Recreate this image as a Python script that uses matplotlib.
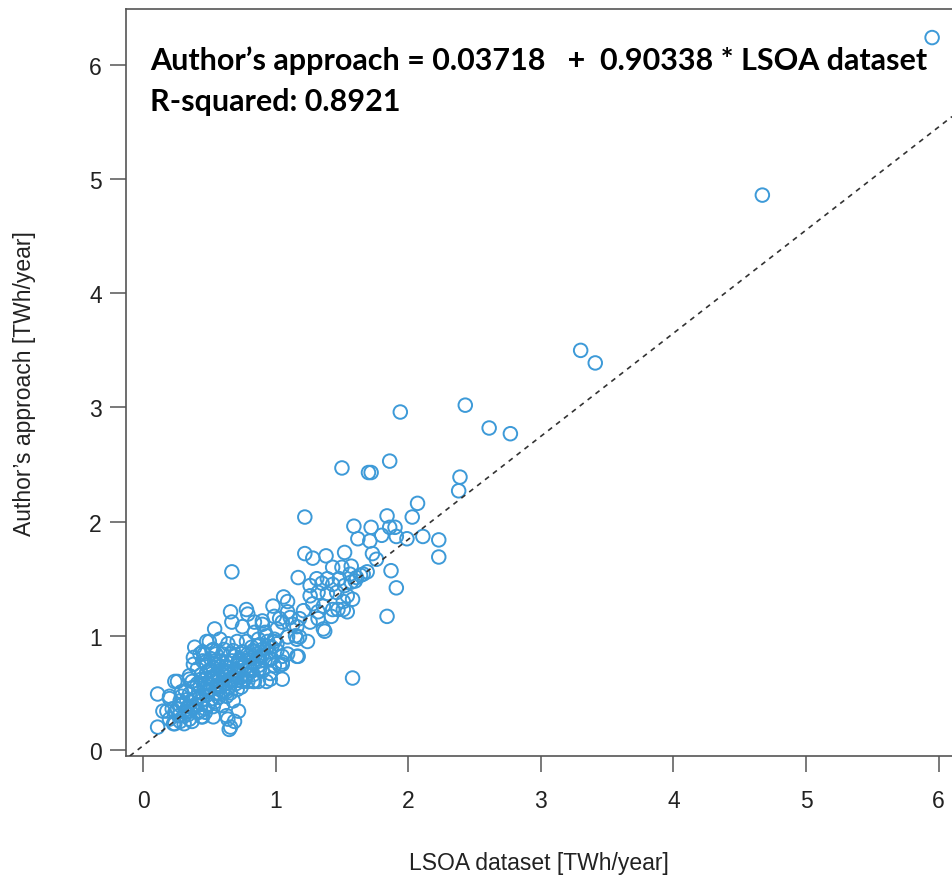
import matplotlib
matplotlib.use("Agg")
import matplotlib.pyplot as plt
import numpy as np

# regression fit printed on the chart
intercept = 0.03718
slope = 0.90338
r_squared = 0.8921

# (LSOA dataset, Author's approach) pairs [TWh/year]
points = [
    # sparse upper part
    (5.95, 6.24), (4.67, 4.86), (3.30, 3.50), (3.41, 3.39), (2.43, 3.02),
    (1.94, 2.96), (2.61, 2.82), (2.77, 2.77), (2.39, 2.39), (2.38, 2.27),
    (1.50, 2.47), (1.70, 2.43), (1.72, 2.43), (1.86, 2.53),
    (1.22, 2.04), (2.07, 2.16), (1.84, 2.05), (2.03, 2.04),
    (1.59, 1.96), (1.72, 1.95), (1.86, 1.95), (1.90, 1.95),
    (1.62, 1.85), (1.71, 1.83), (1.80, 1.88), (1.91, 1.87), (1.99, 1.85),
    (2.11, 1.87), (2.23, 1.84), (2.23, 1.69), (1.73, 1.72), (1.76, 1.67),
    (1.22, 1.72), (1.28, 1.68), (1.38, 1.70), (1.52, 1.73),
    (1.43, 1.60), (1.50, 1.60), (1.57, 1.61), (1.56, 1.54), (1.69, 1.56),
    (1.87, 1.57), (1.60, 1.48), (1.64, 1.53), (1.91, 1.42), (1.84, 1.17),
    (1.58, 0.63), (0.67, 1.56), (1.17, 1.51),
    # middle band
    (1.26, 1.44), (1.31, 1.50), (1.35, 1.46), (1.39, 1.50), (1.43, 1.45),
    (1.48, 1.50), (1.52, 1.44), (1.57, 1.47), (1.61, 1.51), (1.66, 1.54),
    (1.26, 1.35), (1.32, 1.38), (1.39, 1.37), (1.46, 1.38), (1.54, 1.35),
    (1.58, 1.32), (1.28, 1.28), (1.36, 1.26), (1.43, 1.23), (1.51, 1.23),
    (1.54, 1.21), (1.42, 1.17), (1.32, 1.21), (1.21, 1.22), (1.37, 1.04),
    (1.17, 0.82), (1.51, 1.30), (1.47, 1.23),
    (1.06, 1.34), (1.09, 1.30), (0.98, 1.26), (0.99, 1.17), (1.09, 1.21),
    (1.05, 1.12), (1.13, 1.10), (1.15, 1.00), (1.18, 0.99), (0.90, 1.10),
    (0.92, 1.03), (0.84, 1.03), (0.86, 0.91), (0.94, 0.91), (0.99, 0.95),
    (0.88, 0.82), (0.96, 0.80), (1.05, 0.75), (0.88, 0.71), (0.99, 0.74),
    (0.84, 0.60),
    (0.66, 1.21), (0.78, 1.23), (0.79, 1.19), (0.67, 1.12), (0.75, 1.08),
    (0.84, 1.12), (0.90, 1.13), (1.03, 1.15), (1.11, 1.16), (1.18, 1.15),
    (1.01, 1.06), (1.16, 1.08), (1.26, 1.12), (1.32, 1.15), (1.36, 1.06),
    (0.54, 1.06),
    (0.48, 0.95), (0.58, 0.97), (0.64, 0.93), (0.71, 0.95), (0.78, 0.95),
    (0.87, 0.97), (0.93, 1.00), (0.99, 0.97), (1.09, 0.99), (1.16, 0.97),
    (1.24, 0.95),
    (0.45, 0.86), (0.53, 0.88), (0.60, 0.84), (0.68, 0.87), (0.75, 0.86),
    (0.83, 0.87), (0.90, 0.88), (1.01, 0.87), (1.09, 0.84), (1.05, 0.77),
    (0.97, 0.80), (0.88, 0.78), (0.81, 0.80), (0.72, 0.78), (0.63, 0.77),
    (0.54, 0.78), (0.47, 0.77),
    (0.48, 0.68), (0.56, 0.67), (0.63, 0.69), (0.72, 0.68), (0.81, 0.71),
    (0.90, 0.69), (0.96, 0.67), (1.03, 0.74), (1.05, 0.62), (0.93, 0.60),
    (0.83, 0.60), (0.75, 0.60), (0.66, 0.60), (0.57, 0.60), (0.49, 0.58),
    # lower cluster
    (0.43, 0.84), (0.38, 0.75), (0.48, 0.74), (0.66, 0.84), (0.71, 0.74),
    (0.56, 0.65), (0.26, 0.60), (0.35, 0.62), (0.29, 0.51), (0.20, 0.47),
    (0.43, 0.56), (0.53, 0.62), (0.71, 0.53), (0.11, 0.49),
    (0.15, 0.34), (0.22, 0.36), (0.28, 0.39), (0.34, 0.38), (0.41, 0.34),
    (0.47, 0.33), (0.53, 0.38), (0.60, 0.39), (0.68, 0.43),
    (0.20, 0.27), (0.28, 0.25), (0.35, 0.27), (0.44, 0.29), (0.53, 0.29),
    (0.63, 0.30), (0.11, 0.20), (0.24, 0.23), (0.66, 0.20), (0.64, 0.27),
    (0.39, 0.90), (0.50, 0.95), (0.61, 0.88), (0.38, 0.81), (0.46, 0.84),
    (0.52, 0.87), (0.24, 0.60), (0.35, 0.65), (0.44, 0.62), (0.20, 0.45),
    (0.29, 0.47), (0.35, 0.49), (0.18, 0.34), (0.24, 0.33), (0.32, 0.33),
    (0.42, 0.33), (0.47, 0.36), (0.23, 0.23), (0.31, 0.23), (0.37, 0.25),
    (0.45, 0.29), (0.72, 0.34), (0.69, 0.25), (0.65, 0.18),
    (1.05, 0.82), (1.16, 0.82), (0.87, 0.74), (0.82, 0.69), (0.87, 0.60),
    (0.96, 0.62), (0.77, 0.62), (0.63, 0.51), (0.58, 0.56),
    # dense core along the diagonal
    (0.30, 0.40), (0.33, 0.44), (0.36, 0.42), (0.40, 0.46), (0.42, 0.50),
    (0.45, 0.44), (0.48, 0.48), (0.50, 0.52), (0.52, 0.45), (0.55, 0.50),
    (0.57, 0.55), (0.60, 0.52), (0.62, 0.58), (0.65, 0.55), (0.68, 0.62),
    (0.70, 0.66), (0.73, 0.63), (0.76, 0.70), (0.78, 0.66), (0.80, 0.74),
    (0.84, 0.76), (0.86, 0.80), (0.90, 0.83), (0.92, 0.78), (0.95, 0.86),
    (0.38, 0.55), (0.41, 0.58), (0.44, 0.66), (0.47, 0.62), (0.50, 0.70),
    (0.53, 0.72), (0.56, 0.75), (0.59, 0.70), (0.61, 0.66), (0.64, 0.72),
    (0.67, 0.78), (0.69, 0.82), (0.73, 0.80), (0.75, 0.76), (0.79, 0.84),
    (0.82, 0.90), (0.26, 0.36), (0.31, 0.30), (0.34, 0.31), (0.38, 0.38),
    (0.44, 0.40), (0.49, 0.40), (0.54, 0.42), (0.57, 0.46), (0.63, 0.47),
    (0.66, 0.50), (0.70, 0.58), (0.74, 0.55), (0.79, 0.60), (0.83, 0.66),
    (0.46, 0.53), (0.36, 0.34), (0.27, 0.30), (0.51, 0.57), (0.58, 0.63),
    (0.32, 0.52), (0.37, 0.60), (0.40, 0.40), (0.43, 0.47), (0.46, 0.58),
    (0.49, 0.51), (0.52, 0.64), (0.55, 0.56), (0.58, 0.49), (0.60, 0.61),
    (0.62, 0.64), (0.66, 0.66), (0.69, 0.70), (0.71, 0.61), (0.74, 0.72),
    (0.77, 0.78), (0.80, 0.82), (0.85, 0.84), (0.88, 0.92), (0.94, 0.95),
    (0.97, 0.90), (1.01, 0.93), (0.41, 0.71), (0.45, 0.78), (0.51, 0.80),
    (0.55, 0.84), (0.59, 0.78), (0.62, 0.73), (0.28, 0.43), (0.33, 0.36),
]
lsoa = [p[0] for p in points]
author = [p[1] for p in points]

xticks = [0, 1, 2, 3, 4, 5, 6]
yticks = [0, 1, 2, 3, 4, 5, 6]

plt.rcParams['font.family'] = ['Liberation Sans', 'DejaVu Sans']

fig = plt.figure(figsize=(9.52, 8.79), dpi=100)
ax = fig.add_axes([0.1324, 0.1388, 0.8676, 0.8498])

ax.scatter(lsoa, author, s=95, facecolors='none', edgecolors='#3d9ad8',
           linewidths=1.4, zorder=2)
ax.axline((0, intercept), slope=slope, color='#333333', lw=1.2,
          linestyle=(0, (3, 3)), zorder=3)

ax.set_xlim(-0.128, 6.10)
ax.set_ylim(-0.053, 6.49)
ax.set_xticks(xticks)
ax.set_yticks(yticks)

for side in ['left', 'top', 'bottom']:
    ax.spines[side].set_color('#555555')
    ax.spines[side].set_linewidth(1.2)
ax.spines['right'].set_visible(False)
ax.tick_params(axis='both', length=11.5, width=1.1, color='#555555',
               labelsize=16.5, labelcolor='#222222')
ax.tick_params(axis='x', pad=12)
ax.tick_params(axis='y', pad=6)

ax.set_xlabel('LSOA dataset [TWh/year]', fontsize=16.5, color='#222222',
              labelpad=28)
ax.set_ylabel('Author\u2019s approach [TWh/year]', fontsize=16.5,
              color='#222222', labelpad=38)

eq_line = f'Author\u2019s approach = {intercept:.5f}   +  {slope:.5f} * LSOA dataset'
r2_line = f'R-squared: {r_squared:.4f}'
ax.text(0.029, 0.9197, eq_line, transform=ax.transAxes, fontsize=22,
        fontweight='bold', family=['Lato', 'DejaVu Sans'], va='baseline',
        ha='left', color='black')
ax.text(0.029, 0.8648, r2_line, transform=ax.transAxes, fontsize=22,
        fontweight='bold', family=['Lato', 'DejaVu Sans'], va='baseline',
        ha='left', color='black')

fig.savefig('out.png', dpi=100)
